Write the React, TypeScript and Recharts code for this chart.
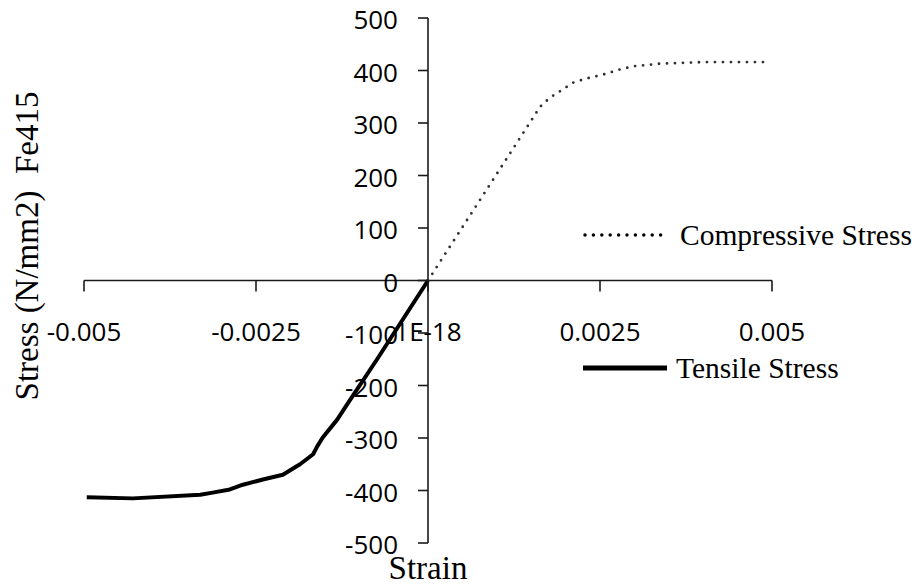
import React from 'react'
import { LineChart, Line, XAxis, YAxis, ReferenceLine } from 'recharts'

// stress-strain curve for Fe415 bars
const COMP_STRAIN = [0, 0.00163, 0.00177, 0.00196, 0.00211, 0.00231, 0.00254, 0.00279, 0.00298, 0.00337, 0.004, 0.0049]
const COMP_STRESS = [0, 331, 348, 364, 377, 385, 392, 402, 408, 413, 416, 416]

const TENS_STRAIN = [0, -0.00074, -0.00113, -0.00132, -0.00153, -0.00161, -0.00167, -0.00186, -0.00211,
  -0.0024, -0.00269, -0.00288, -0.00313, -0.00331, -0.00429, -0.00496]
const TENS_STRESS = [0, -150, -227, -265, -299, -316, -331, -350, -370,
  -379, -389, -398, -404, -408, -415, -413]

const X_TICKS = [-0.005, -0.0025, 0, 0.0025, 0.005]
const X_TICK_LABELS = ['-0.005', '-0.0025', '1E-18', '0.0025', '0.005']
const Y_TICKS = [-500, -400, -300, -200, -100, 0, 100, 200, 300, 400, 500]

const SERIES_COMP = 'Compressive Stress'
const SERIES_TENS = 'Tensile Stress'

const W = 915
const H = 587
// axes get 1px each (a 0px axis is not drawn at all)
const MARGIN = { top: 18, right: 143, bottom: 43, left: 83 }
const PLOT_L = MARGIN.left + 1
const PLOT_W = W - PLOT_L - MARGIN.right
const PLOT_H = H - MARGIN.top - MARGIN.bottom - 1
const ZERO_X = PLOT_L + PLOT_W / 2
const ZERO_Y = MARGIN.top + PLOT_H / 2

const AXIS_COLOR = '#1a1a1a'
const TICK_FONT = '"Open Sans", sans-serif'
const SERIF = '"Liberation Serif", "Times New Roman", serif'

const compData = COMP_STRAIN.map((s, i) => ({ strain: s, stress: COMP_STRESS[i] }))
const tensData = TENS_STRAIN.map((s, i) => ({ strain: s, stress: TENS_STRESS[i] }))

function XTick(props: any) {
  const { x, payload } = props
  const idx = X_TICKS.indexOf(payload.value)
  return (
    <g>
      <line x1={x} x2={x} y1={ZERO_Y} y2={ZERO_Y + 11} stroke={AXIS_COLOR} strokeWidth={1.6} />
      <text x={x} y={ZERO_Y + 50} textAnchor="middle" dominantBaseline="central"
        fontFamily={TICK_FONT} fontSize={26} fill="#000">
        {idx >= 0 ? X_TICK_LABELS[idx] : payload.value}
      </text>
    </g>
  )
}

function YTick(props: any) {
  const { y, payload } = props
  return (
    <g>
      <line x1={ZERO_X - 10} x2={ZERO_X} y1={y} y2={y} stroke={AXIS_COLOR} strokeWidth={1.6} />
      <text x={ZERO_X - 30} y={y + 1} textAnchor="end" dominantBaseline="central"
        fontFamily={TICK_FONT} fontSize={26} fill="#000">
        {payload.value}
      </text>
    </g>
  )
}

function LegendBox() {
  const row: React.CSSProperties = {
    position: 'absolute', left: 0, display: 'flex', alignItems: 'center',
    height: 30, fontFamily: SERIF, fontSize: 29.5, lineHeight: '30px',
    color: '#000', whiteSpace: 'nowrap',
  }
  return (
    <div style={{ position: 'absolute', left: 583, top: 220, width: 330, height: 170 }}>
      <div style={{ ...row, top: 0 }}>
        <svg width={80} height={10} style={{ marginRight: 17 }}>
          <line x1={2} x2={78} y1={5} y2={5} stroke="#000" strokeWidth={3.5}
            strokeDasharray="0 8.4" strokeLinecap="round" />
        </svg>
        <span>{SERIES_COMP}</span>
      </div>
      <div style={{ ...row, top: 133 }}>
        <svg width={84} height={10} style={{ marginRight: 9 }}>
          <line x1={0} x2={84} y1={5} y2={5} stroke="#000" strokeWidth={5} />
        </svg>
        <span>{SERIES_TENS}</span>
      </div>
    </div>
  )
}

export default function App() {
  return (
    <div style={{ position: 'absolute', left: 0, top: 0, width: W, height: H, background: '#fff' }}>
      <LineChart width={W} height={H} margin={MARGIN}>
        <XAxis
          dataKey="strain"
          type="number"
          domain={[-0.005, 0.005]}
          ticks={X_TICKS}
          interval={0}
          height={1}
          axisLine={false}
          tickLine={false}
          tick={(p: any) => <XTick {...p} />}
          allowDataOverflow
        />
        <YAxis
          type="number"
          domain={[-500, 500]}
          ticks={Y_TICKS}
          interval={0}
          width={1}
          axisLine={false}
          tickLine={false}
          tick={(p: any) => <YTick {...p} />}
          allowDataOverflow
        />
        <ReferenceLine x={0} stroke={AXIS_COLOR} strokeWidth={1.6} />
        <ReferenceLine y={0} stroke={AXIS_COLOR} strokeWidth={1.6} />
        <Line
          data={compData}
          dataKey="stress"
          name={SERIES_COMP}
          type="linear"
          stroke="#2e2e2e"
          strokeWidth={2.8}
          strokeDasharray="0 8"
          strokeLinecap="round"
          dot={false}
          isAnimationActive={false}
        />
        <Line
          data={tensData}
          dataKey="stress"
          name={SERIES_TENS}
          type="linear"
          stroke="#000"
          strokeWidth={4}
          strokeLinejoin="round"
          dot={false}
          isAnimationActive={false}
        />
      </LineChart>
      <LegendBox />
      <div style={{
        position: 'absolute', left: 27, top: 246, transform: 'translate(-50%, -50%) rotate(-90deg)',
        fontFamily: SERIF, fontSize: 33, lineHeight: 1, whiteSpace: 'pre', color: '#000',
      }}>
        {'Stress (N/mm2)  Fe415'}
      </div>
      <div style={{
        position: 'absolute', left: ZERO_X, top: 552, transform: 'translateX(-50%)',
        fontFamily: SERIF, fontSize: 33, lineHeight: 1, whiteSpace: 'nowrap', color: '#000',
      }}>
        Strain
      </div>
    </div>
  )
}
